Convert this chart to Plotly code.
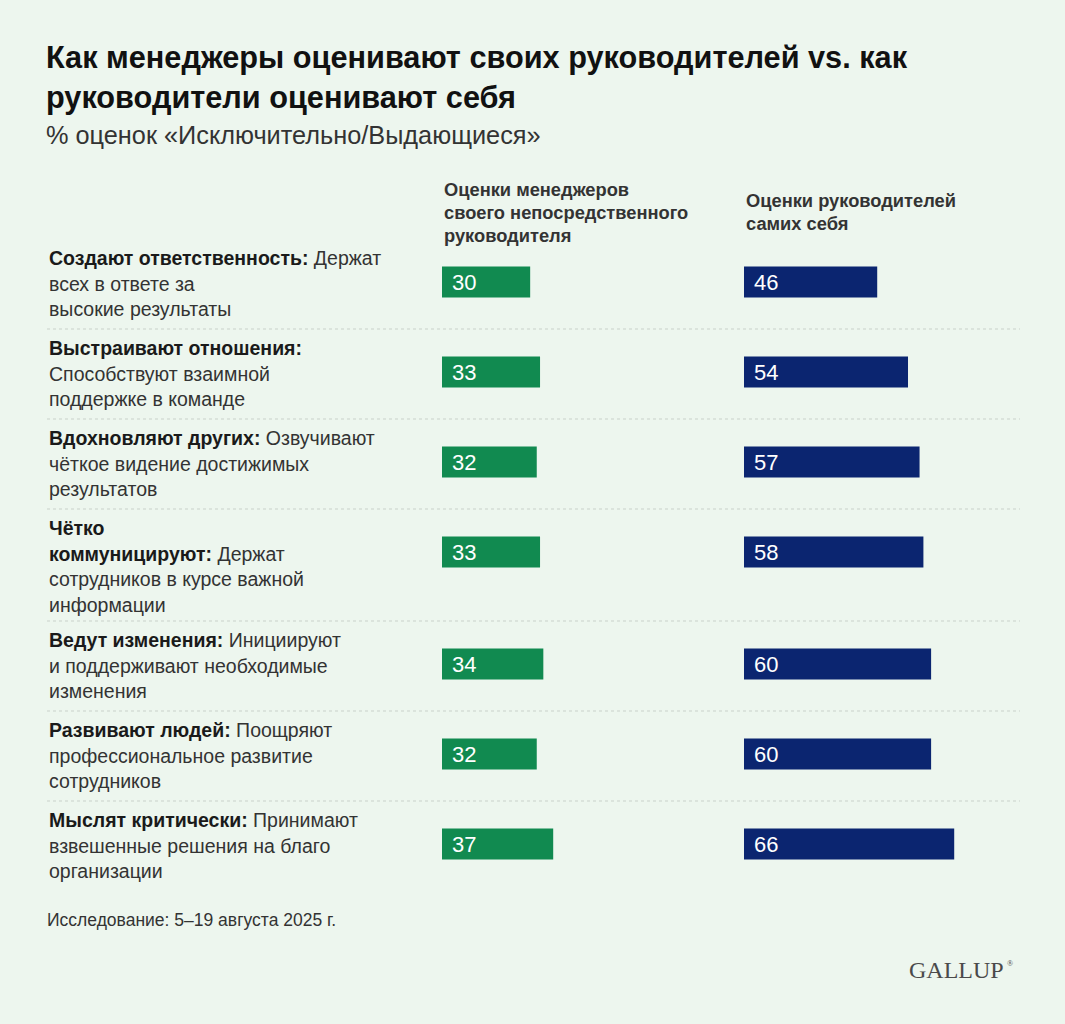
import plotly.graph_objects as go

# ---------------- data ----------------
categories = [
    "<b>Создают ответственность:</b> Держат<br>всех в ответе за<br>высокие результаты",
    "<b>Выстраивают отношения:</b><br>Способствуют взаимной<br>поддержке в команде",
    "<b>Вдохновляют других:</b> Озвучивают<br>чёткое видение достижимых<br>результатов",
    "<b>Чётко</b><br><b>коммуницируют:</b> Держат<br>сотрудников в курсе важной<br>информации",
    "<b>Ведут изменения:</b> Инициируют<br>и поддерживают необходимые<br>изменения",
    "<b>Развивают людей:</b> Поощряют<br>профессиональное развитие<br>сотрудников",
    "<b>Мыслят критически:</b> Принимают<br>взвешенные решения на благо<br>организации",
]
managers_rating = [30, 33, 32, 33, 34, 32, 37]
self_rating = [46, 54, 57, 58, 60, 60, 66]
series_names = [
    "Оценки менеджеров<br>своего непосредственного<br>руководителя",
    "Оценки руководителей<br>самих себя",
]
title_lines = ["Как менеджеры оценивают своих руководителей vs. как",
               "руководители оценивают себя"]
subtitle = "% оценок «Исключительно/Выдающиеся»"
footnote = "Исследование: 5–19 августа 2025 г."
brand = "GALLUP"

# ---------------- style ----------------
W, H = 1065, 1024
BG = "#edf6ee"
GREEN = "#118a50"
BLUE = "#0b2570"
FONT = "Liberation Sans, Arial, sans-serif"
DARK = "#1a1a1a"
TEXT = "#333333"

LINE_H = 25.7
first_y = 258
row_first = []
y = first_y
for c in categories:
    n = len(c.split("<br>"))
    row_first.append(y)
    y += 22 * n + 24
bar_y = [f + 24 for f in row_first]

G_LEFT, G_RIGHT = 442, 700
B_LEFT, B_RIGHT = 744, 1040
g0, gs = 3.2, 3.29
b0, bs = 11.4, 3.85

fig = go.Figure()
fig.add_trace(go.Bar(
    x=managers_rating, y=bar_y, orientation="h", width=31,
    marker=dict(color=GREEN, line=dict(width=0)),
    xaxis="x", yaxis="y", hoverinfo="skip", name="managers"))
fig.add_trace(go.Bar(
    x=self_rating, y=bar_y, orientation="h", width=31,
    marker=dict(color=BLUE, line=dict(width=0)),
    xaxis="x2", yaxis="y", hoverinfo="skip", name="self"))

ann = []
# titles
for i, t in enumerate(title_lines):
    ann.append(dict(x=44 / W, y=57 + 40 * i, xref="paper", yref="y", text=f"<b>{t}</b>",
                    xanchor="left", yanchor="middle", showarrow=False,
                    font=dict(family=FONT, size=30.7, color="#111111")))
ann.append(dict(x=44 / W, y=135, xref="paper", yref="y", text=subtitle,
                xanchor="left", yanchor="middle", showarrow=False,
                font=dict(family=FONT, size=25.3, color=TEXT)))

# column headers
for lines_txt, x0, ystart in [(series_names[0], G_LEFT, 189.5), (series_names[1], B_LEFT, 200)]:
    for k, ln in enumerate(lines_txt.split("<br>")):
        ann.append(dict(x=x0 / W, y=ystart + 23.2 * k, xref="paper", yref="y",
                        text=f"<b>{ln}</b>", xanchor="left", yanchor="middle",
                        showarrow=False, font=dict(family=FONT, size=18.3, color=TEXT)))

# row labels
for c, f in zip(categories, row_first):
    for k, ln in enumerate(c.split("<br>")):
        ln = ln.replace("<b>", "<b><span style='color:%s'>" % DARK).replace("</b>", "</span></b>")
        ann.append(dict(x=47 / W, y=f + LINE_H * k, xref="paper", yref="y",
                        text=ln, xanchor="left", yanchor="middle", showarrow=False,
                        font=dict(family=FONT, size=19.5, color=TEXT)))

# value labels
for v, yy in zip(managers_rating, bar_y):
    ann.append(dict(x=g0, y=yy, xref="x", yref="y", text=str(v), xanchor="left",
                    yanchor="middle", xshift=8, showarrow=False,
                    font=dict(family=FONT, size=22, color="white")))
for v, yy in zip(self_rating, bar_y):
    ann.append(dict(x=b0, y=yy, xref="x2", yref="y", text=str(v), xanchor="left",
                    yanchor="middle", xshift=8, showarrow=False,
                    font=dict(family=FONT, size=22, color="white")))

# footnote + brand
ann.append(dict(x=45 / W, y=920, xref="paper", yref="y", text=footnote,
                xanchor="left", yanchor="middle", showarrow=False,
                font=dict(family=FONT, size=17.5, color=TEXT)))
ann.append(dict(x=1006 / W, y=970, xref="paper", yref="y", text=brand,
                xanchor="right", yanchor="middle", showarrow=False,
                font=dict(family="Liberation Serif, Times New Roman, serif", size=24, color="#4a4a4a")))
ann.append(dict(x=1005 / W, y=963, xref="paper", yref="y", text="®",
                xanchor="left", yanchor="middle", showarrow=False,
                font=dict(family="Liberation Serif, Times New Roman, serif", size=8, color="#4a4a4a")))

# separators
shapes = []
for f in row_first[1:]:
    shapes.append(dict(type="line", xref="paper", yref="y", x0=47 / W, x1=1020 / W,
                       y0=f - 19, y1=f - 19, line=dict(color="#c9d1ca", width=1, dash="dot")))

fig.update_layout(
    width=W, height=H, margin=dict(l=0, r=0, t=0, b=0),
    paper_bgcolor=BG, plot_bgcolor=BG, showlegend=False, barmode="overlay",
    xaxis=dict(domain=[G_LEFT / W, G_RIGHT / W], range=[g0, g0 + (G_RIGHT - G_LEFT) / gs],
               visible=False, anchor="y", fixedrange=True),
    xaxis2=dict(domain=[B_LEFT / W, B_RIGHT / W], range=[b0, b0 + (B_RIGHT - B_LEFT) / bs],
                visible=False, anchor="y", fixedrange=True),
    yaxis=dict(domain=[0, 1], range=[H, 0], visible=False, fixedrange=True),
    annotations=ann, shapes=shapes,
)

fig.write_html("out.html", config={"displayModeBar": False},
               post_script="document.body.style.margin='0';document.body.style.overflow='hidden';")
